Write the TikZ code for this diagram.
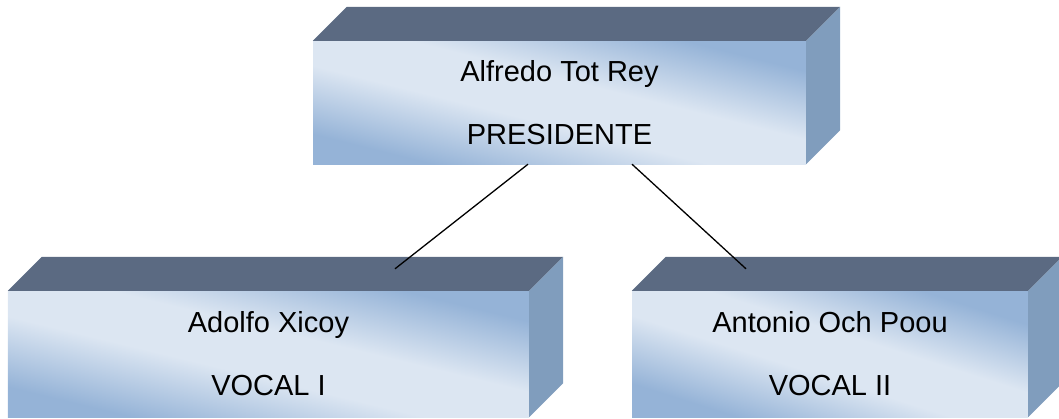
\documentclass[tikz,border=0pt]{standalone}
\usepackage{fontspec}
\setmainfont{Liberation Sans}
\usetikzlibrary{calc}

\definecolor{caraarriba}{HTML}{5B6A82}
\definecolor{caralado}{HTML}{809DBD}
\definecolor{frenteosc}{HTML}{95B3D7}
\definecolor{frenteclaro}{HTML}{DCE6F2}
\pgfdeclareverticalshading{frente}{100bp}{color(0bp)=(frenteosc); color(27bp)=(frenteosc); color(44bp)=(frenteclaro); color(56bp)=(frenteclaro); color(73bp)=(frenteosc); color(100bp)=(frenteosc)}

\tikzset{
  caja/.style={shade, shading=frente, shading angle=#1, inner sep=0pt,
    minimum height=126bp, align=center,
    font=\fontsize{29bp}{63bp}\selectfont},
  arriba/.style={fill=caraarriba},
  lado/.style={fill=caralado},
  linea/.style={draw=black, line width=1.3bp}
}

\begin{document}
\begin{tikzpicture}[x=1bp,y=-1bp]
    \useasboundingbox (0,0) rectangle (1059,418);

    \node[caja=-14, minimum width=493bp, minimum height=123bp] (pres) at (559.5,102.5) {Alfredo Tot Rey\\PRESIDENTE};
    \node[caja=-13.6, minimum width=521bp] (voc1) at (268.5,354) {Adolfo Xicoy\\VOCAL I};
    \node[caja=-17.6, minimum width=396bp] (voc2) at (830,354) {Antonio Och Poou\\VOCAL II};

    \foreach \c in {pres,voc1,voc2} {
        \fill[arriba] (\c.north west) -- ++(34,-34) -- ($(\c.north east)+(34,-34)$) -- (\c.north east) -- cycle;
        \fill[lado] (\c.north east) -- ++(34,-34) -- ($(\c.south east)+(34,-34)$) -- (\c.south east) -- cycle;
    }

    \coordinate (s1) at ($(pres.south)+(-31.5,0)$);
    \coordinate (s2) at ($(pres.south)+(72.5,0)$);
    \coordinate (e1) at ($(voc1.north)+(126.5,-22)$);
    \coordinate (e2) at ($(voc2.north)+(-84,-22)$);

    \draw[linea] (s1) -- (e1);
    \draw[linea] (s2) -- (e2);
\end{tikzpicture}
\end{document}
